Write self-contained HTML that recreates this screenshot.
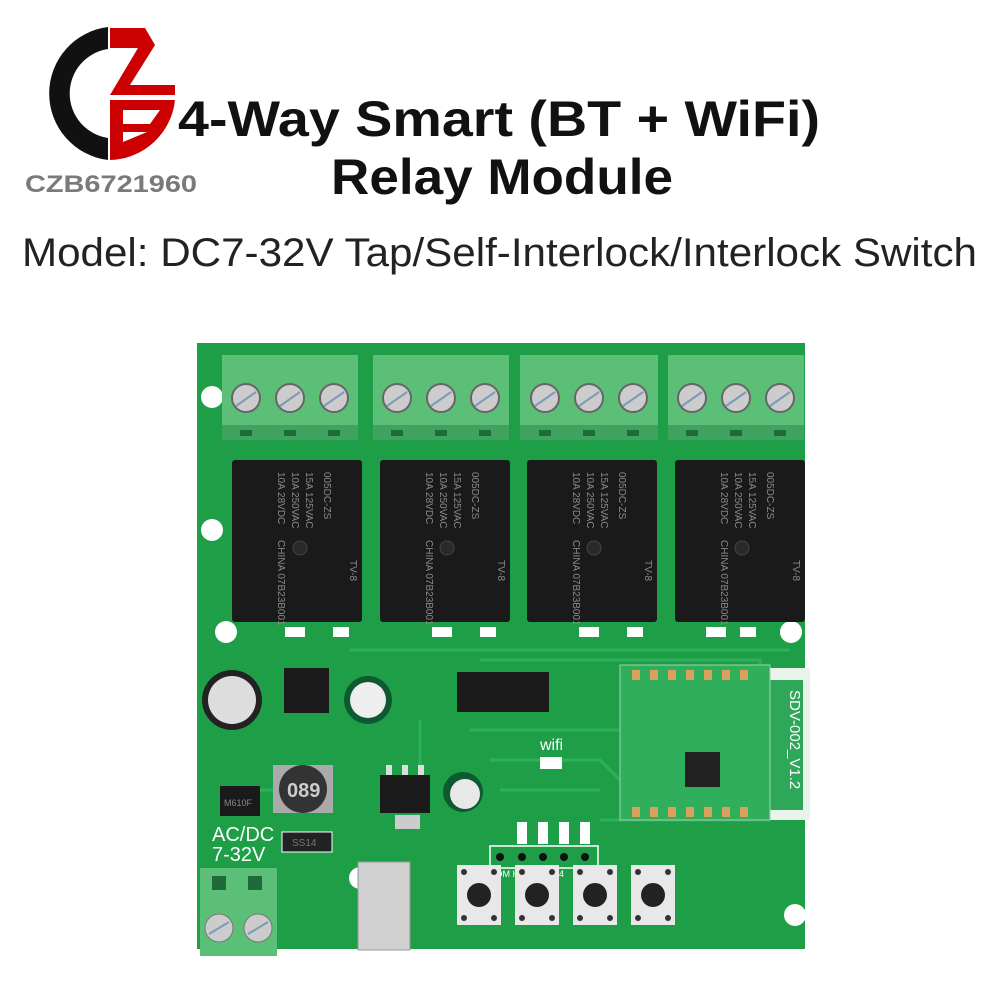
<!DOCTYPE html>
<html><head><meta charset="utf-8"><style>
html,body{margin:0;padding:0;background:#fff;}
svg{display:block}
</style></head><body>
<svg width="1000" height="1000" viewBox="0 0 1000 1000" xmlns="http://www.w3.org/2000/svg" font-family="Liberation Sans, sans-serif">
<defs>
<g id="rl" fill="#8a8a8a" font-size="10">
<text transform="translate(92,12) rotate(90)">005DC-ZS</text>
<text transform="translate(74,12) rotate(90)">15A 125VAC</text>
<text transform="translate(60,12) rotate(90)">10A 250VAC</text>
<text transform="translate(46,12) rotate(90)">10A 28VDC</text>
<text transform="translate(46,80) rotate(90)">CHINA 07B23B001</text>
<text transform="translate(118,100) rotate(90)">TV-8</text>
</g>
</defs>
<rect width="1000" height="1000" fill="#fff"/>
<!-- logo -->
<path d="M108 27 A67 67 0 0 0 108 160 L108 138 A45 45 0 0 1 108 49 Z" fill="#111"/>
<path d="M110 28 L145 28 L155 45 L130 85 L175 85 L175 95 L110 95 L138 48 L110 48 Z" fill="#c00"/>
<path d="M110 100 L175 100 A67 67 0 0 1 110 160 Z" fill="#c00"/>
<path d="M123 110 L160 110 L150 124 L123 124 Z" fill="#fff"/>
<path d="M123 132 L147 132 L123 142 Z" fill="#fff"/>
<text x="25" y="192" font-size="24" font-weight="bold" fill="#7a7a7a" textLength="172" lengthAdjust="spacingAndGlyphs">CZB6721960</text>
<!-- title -->
<text x="178" y="136" font-size="50" font-weight="bold" fill="#111" textLength="642" lengthAdjust="spacingAndGlyphs">4-Way Smart (BT + WiFi)</text>
<text x="331" y="194" font-size="50" font-weight="bold" fill="#111" textLength="342" lengthAdjust="spacingAndGlyphs">Relay Module</text>
<text x="22" y="266" font-size="40" fill="#222" textLength="955" lengthAdjust="spacingAndGlyphs">Model: DC7-32V Tap/Self-Interlock/Interlock Switch</text>
<!-- board -->
<rect x="197" y="343" width="608" height="606" fill="#1f9e48"/>
<rect x="770" y="668" width="40" height="152" fill="#e8f3ea"/>
<rect x="765" y="680" width="38" height="130" fill="#2ea858"/>
<g fill="#fff">
<circle cx="212" cy="397" r="11"/><circle cx="212" cy="530" r="11"/><circle cx="226" cy="632" r="11"/>
<circle cx="791" cy="397" r="11"/><circle cx="791" cy="530" r="11"/><circle cx="791" cy="632" r="11"/>
<circle cx="360" cy="878" r="11"/><circle cx="795" cy="915" r="11"/>
</g>
<g stroke="#2eb05a" stroke-width="3" fill="none">
<path d="M350 650 L790 650"/><path d="M480 660 L760 660 L760 690"/>
<path d="M470 730 L620 730"/><path d="M490 760 L600 760 L620 780"/>
<path d="M500 790 L600 790"/><path d="M600 820 L770 820"/>
<path d="M420 720 L420 800"/><path d="M260 790 L320 790"/>
</g>
<g>
<rect x="222" y="355" width="136" height="85" fill="#5bbf78"/><rect x="373" y="355" width="136" height="85" fill="#5bbf78"/>
<rect x="520" y="355" width="138" height="85" fill="#5bbf78"/><rect x="668" y="355" width="136" height="85" fill="#5bbf78"/>
<g fill="#3fa25f"><rect x="222" y="425" width="136" height="15"/><rect x="373" y="425" width="136" height="15"/><rect x="520" y="425" width="138" height="15"/><rect x="668" y="425" width="136" height="15"/></g>
<g fill="#1f6a3a"><rect x="240" y="430" width="12" height="6"/><rect x="284" y="430" width="12" height="6"/><rect x="328" y="430" width="12" height="6"/><rect x="391" y="430" width="12" height="6"/><rect x="435" y="430" width="12" height="6"/><rect x="479" y="430" width="12" height="6"/><rect x="539" y="430" width="12" height="6"/><rect x="583" y="430" width="12" height="6"/><rect x="627" y="430" width="12" height="6"/><rect x="686" y="430" width="12" height="6"/><rect x="730" y="430" width="12" height="6"/><rect x="774" y="430" width="12" height="6"/></g>
<g fill="#ccc" stroke="#666" stroke-width="2">
<circle cx="246" cy="398" r="14"/><circle cx="290" cy="398" r="14"/><circle cx="334" cy="398" r="14"/>
<circle cx="397" cy="398" r="14"/><circle cx="441" cy="398" r="14"/><circle cx="485" cy="398" r="14"/>
<circle cx="545" cy="398" r="14"/><circle cx="589" cy="398" r="14"/><circle cx="633" cy="398" r="14"/>
<circle cx="692" cy="398" r="14"/><circle cx="736" cy="398" r="14"/><circle cx="780" cy="398" r="14"/>
</g>
<g stroke="#7a9ab8" stroke-width="2">
<path d="M236 406 L256 392"/><path d="M280 406 L300 392"/><path d="M324 406 L344 392"/>
<path d="M387 406 L407 392"/><path d="M431 406 L451 392"/><path d="M475 406 L495 392"/>
<path d="M535 406 L555 392"/><path d="M579 406 L599 392"/><path d="M623 406 L643 392"/>
<path d="M682 406 L702 392"/><path d="M726 406 L746 392"/><path d="M770 406 L790 392"/>
</g>
<g fill="#1a1a1a">
<rect x="232" y="460" width="130" height="162" rx="3"/><rect x="380" y="460" width="130" height="162" rx="3"/>
<rect x="527" y="460" width="130" height="162" rx="3"/><rect x="675" y="460" width="130" height="162" rx="3"/>
</g>
<use href="#rl" x="232" y="460"/><use href="#rl" x="380" y="460"/><use href="#rl" x="527" y="460"/><use href="#rl" x="675" y="460"/>
<g fill="#2a2a2a" stroke="#444"><circle cx="300" cy="548" r="7"/><circle cx="447" cy="548" r="7"/><circle cx="594" cy="548" r="7"/><circle cx="742" cy="548" r="7"/></g>
<g fill="#fff"><rect x="285" y="627" width="20" height="10"/><rect x="333" y="627" width="16" height="10"/><rect x="432" y="627" width="20" height="10"/><rect x="480" y="627" width="16" height="10"/><rect x="579" y="627" width="20" height="10"/><rect x="627" y="627" width="16" height="10"/><rect x="706" y="627" width="20" height="10"/><rect x="740" y="627" width="16" height="10"/></g>
</g>
<circle cx="232" cy="700" r="30" fill="#222"/><circle cx="232" cy="700" r="24" fill="#ddd"/>
<rect x="284" y="668" width="45" height="45" fill="#1a1a1a"/>
<circle cx="368" cy="700" r="24" fill="#0e5a30"/><circle cx="368" cy="700" r="18" fill="#eee"/>
<rect x="273" y="765" width="60" height="48" fill="#aaa"/><circle cx="303" cy="789" r="24" fill="#333"/>
<text x="287" y="797" font-size="20" fill="#ccc" font-weight="bold">089</text>
<rect x="220" y="786" width="40" height="30" fill="#1a1a1a"/>
<text x="224" y="806" font-size="9" fill="#888">M610F</text>
<rect x="282" y="832" width="50" height="20" fill="#222" stroke="#fff"/>
<text x="292" y="846" font-size="10" fill="#777">SS14</text>
<rect x="380" y="775" width="50" height="38" fill="#1a1a1a"/><rect x="395" y="815" width="25" height="14" fill="#ccc"/>
<g fill="#ddd"><rect x="386" y="765" width="6" height="10"/><rect x="402" y="765" width="6" height="10"/><rect x="418" y="765" width="6" height="10"/></g>
<rect x="457" y="672" width="92" height="40" fill="#1a1a1a"/>
<circle cx="463" cy="792" r="20" fill="#0e5a30"/><circle cx="465" cy="794" r="15" fill="#e8e8e8"/>
<text x="540" y="750" font-size="16" fill="#fff">wifi</text>
<rect x="540" y="757" width="22" height="12" fill="#fff"/>
<g fill="#fff"><rect x="517" y="822" width="10" height="22"/><rect x="538" y="822" width="10" height="22"/><rect x="559" y="822" width="10" height="22"/><rect x="580" y="822" width="10" height="22"/></g>
<rect x="490" y="846" width="108" height="22" fill="none" stroke="#fff" stroke-width="1.5"/>
<g fill="#111"><circle cx="500" cy="857" r="4"/><circle cx="522" cy="857" r="4"/><circle cx="543" cy="857" r="4"/><circle cx="564" cy="857" r="4"/><circle cx="585" cy="857" r="4"/></g>
<text x="489" y="877" font-size="9" fill="#fff">COM  K1  K2  K3  K4</text>
<rect x="620" y="665" width="150" height="155" fill="#2fae5c" stroke="#9ed4ae"/>
<rect x="685" y="752" width="35" height="35" fill="#222"/>
<text x="790" y="690" font-size="15" fill="#fff" transform="rotate(90 790 690)">SDV-002_V1.2</text>
<g fill="#d9a060"><rect x="632" y="670" width="8" height="10"/><rect x="650" y="670" width="8" height="10"/><rect x="668" y="670" width="8" height="10"/><rect x="686" y="670" width="8" height="10"/><rect x="704" y="670" width="8" height="10"/><rect x="722" y="670" width="8" height="10"/><rect x="740" y="670" width="8" height="10"/><rect x="632" y="807" width="8" height="10"/><rect x="650" y="807" width="8" height="10"/><rect x="668" y="807" width="8" height="10"/><rect x="686" y="807" width="8" height="10"/><rect x="704" y="807" width="8" height="10"/><rect x="722" y="807" width="8" height="10"/><rect x="740" y="807" width="8" height="10"/></g>
<text x="212" y="841" font-size="20" fill="#fff">AC/DC</text>
<text x="212" y="861" font-size="20" fill="#fff">7-32V</text>
<rect x="200" y="868" width="77" height="88" fill="#5bbf78"/>
<rect x="212" y="876" width="14" height="14" fill="#1f6a3a"/><rect x="248" y="876" width="14" height="14" fill="#1f6a3a"/>
<circle cx="219" cy="928" r="14" fill="#ccc" stroke="#777"/><circle cx="258" cy="928" r="14" fill="#ccc" stroke="#777"/>
<g stroke="#7a9ab8" stroke-width="2"><path d="M209 934 L229 922"/><path d="M248 934 L268 922"/></g>
<rect x="358" y="862" width="52" height="88" fill="#d0d0d0" stroke="#999"/>
<g>
<rect x="457" y="865" width="44" height="60" fill="#e8e8e8"/><circle cx="479" cy="895" r="12" fill="#222"/>
<rect x="515" y="865" width="44" height="60" fill="#e8e8e8"/><circle cx="537" cy="895" r="12" fill="#222"/>
<rect x="573" y="865" width="44" height="60" fill="#e8e8e8"/><circle cx="595" cy="895" r="12" fill="#222"/>
<rect x="631" y="865" width="44" height="60" fill="#e8e8e8"/><circle cx="653" cy="895" r="12" fill="#222"/>
</g>
<g fill="#333">
<circle cx="464" cy="872" r="3"/><circle cx="494" cy="872" r="3"/><circle cx="464" cy="918" r="3"/><circle cx="494" cy="918" r="3"/>
<circle cx="522" cy="872" r="3"/><circle cx="552" cy="872" r="3"/><circle cx="522" cy="918" r="3"/><circle cx="552" cy="918" r="3"/>
<circle cx="580" cy="872" r="3"/><circle cx="610" cy="872" r="3"/><circle cx="580" cy="918" r="3"/><circle cx="610" cy="918" r="3"/>
<circle cx="638" cy="872" r="3"/><circle cx="668" cy="872" r="3"/><circle cx="638" cy="918" r="3"/><circle cx="668" cy="918" r="3"/>
</g>
</svg>
</body></html>
